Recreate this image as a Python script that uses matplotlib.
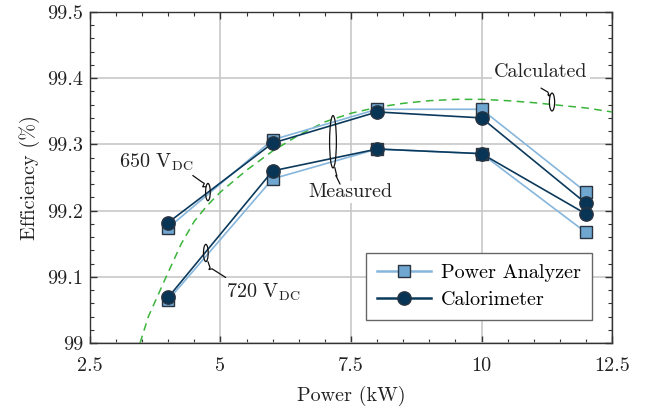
import matplotlib
matplotlib.use("Agg")
import matplotlib.pyplot as plt
from matplotlib.patches import Ellipse
from matplotlib.ticker import MultipleLocator, FuncFormatter

plt.rcParams['font.family'] = ['cmr10', 'DejaVu Serif']
plt.rcParams['mathtext.fontset'] = 'cm'
plt.rcParams['axes.formatter.use_mathtext'] = True

power = [4, 6, 8, 10, 12]
pa_650 = [99.174, 99.307, 99.353, 99.353, 99.228]
cal_650 = [99.182, 99.302, 99.349, 99.340, 99.211]
pa_720 = [99.065, 99.248, 99.293, 99.286, 99.167]
cal_720 = [99.069, 99.260, 99.293, 99.286, 99.195]

calc_power = [3.46, 3.62, 4.0, 4.25, 4.5, 4.75, 5.0, 5.5, 6.0, 6.5, 7.0, 7.5, 8.0, 8.5, 9.0, 9.5, 10.0, 10.5, 11.0, 11.5, 12.0, 12.5]
calc_eff = [99.0, 99.040, 99.107, 99.150, 99.184, 99.208, 99.228, 99.261, 99.290, 99.314, 99.334, 99.347, 99.356, 99.362, 99.366, 99.368, 99.368, 99.366, 99.363, 99.359, 99.355, 99.349]

xticks = [2.5, 5, 7.5, 10, 12.5]
yticks = [99.0, 99.1, 99.2, 99.3, 99.4, 99.5]

light = '#86b6dc'
sq_fill = '#6fa7d1'
dark = '#0c3a5c'
c_fill = '#083456'
edge = '#2a3440'
green = '#3ab53a'
FS = 14.5

fig = plt.figure(figsize=(6.47, 4.13), dpi=100)
ax = fig.add_axes([0.139, 0.1695, 0.807, 0.8015])

ax.plot(calc_power, calc_eff, color=green, lw=1.1, dashes=(5, 3.5), zorder=3)

for pa in (pa_650, pa_720):
    ax.plot(power, pa, color=light, lw=1.2, marker='s', ms=8.2, mfc=sq_fill,
            mec=edge, mew=1.0, zorder=4)
for cal in (cal_650, cal_720):
    ax.plot(power, cal, color=dark, lw=1.2, marker='o', ms=9.6, mfc=c_fill,
            mec=edge, mew=1.0, zorder=5)

# legend proxies
h1, = ax.plot([], [], color=light, lw=1.8, marker='s', ms=8.2, mfc=sq_fill, mec=edge, mew=1.0)
h2, = ax.plot([], [], color=dark, lw=1.8, marker='o', ms=9.6, mfc=c_fill, mec=edge, mew=1.0)
leg = ax.legend([h1, h2], ['Power Analyzer', 'Calorimeter'], loc='lower right',
                bbox_to_anchor=(0.962, 0.0695), borderaxespad=0, fontsize=FS,
                fancybox=False, framealpha=1, edgecolor='#666666',
                handlelength=2.7, handletextpad=0.5, borderpad=0.55, labelspacing=0.45)
leg.get_frame().set_linewidth(1.0)
leg.set_zorder(10)

ax.set_xlim(2.5, 12.5)
ax.set_ylim(99.0, 99.5)
ax.set_xticks(xticks)
ax.set_yticks(yticks)
ax.xaxis.set_minor_locator(MultipleLocator(0.5))
ax.yaxis.set_minor_locator(MultipleLocator(0.02))
ax.xaxis.set_major_formatter(FuncFormatter(lambda v, p: ('%g' % v)))
ax.yaxis.set_major_formatter(FuncFormatter(lambda v, p: ('%g' % round(v, 2))))
ax.tick_params(which='both', direction='in', top=True, right=True, colors='#333333',
               labelcolor='#222222', labelsize=FS)
ax.tick_params(which='major', length=5, width=1)
ax.tick_params(which='minor', length=3, width=0.8)
ax.tick_params(axis='x', pad=10)
ax.tick_params(axis='y', pad=5)
ax.grid(True, which='major', color='#c8c8c8', lw=1.2)
ax.set_axisbelow(True)
for s in ax.spines.values():
    s.set_color('#333333')
    s.set_linewidth(1.0)

ax.set_xlabel('Power (kW)', fontsize=FS, color='#222222', labelpad=8)
ax.set_ylabel('Efficiency (%)', fontsize=FS, color='#222222', labelpad=5)

# annotations
bbox = dict(boxstyle='square,pad=0.12', fc='white', ec='none')
ax.text(3.78, 99.273, r'650 V$_{\mathrm{DC}}$', fontsize=FS, ha='center', va='center',
        color='#222222', bbox=bbox, zorder=6)
ax.text(5.11, 99.076, r'720 V$_{\mathrm{DC}}$', fontsize=FS, ha='left', va='center',
        color='#222222', bbox=bbox, zorder=6)
ax.text(7.48, 99.228, 'Measured', fontsize=FS, ha='center', va='center',
        color='#222222', bbox=bbox, zorder=6)
ax.text(11.14, 99.409, 'Calculated', fontsize=FS, ha='center', va='center',
        color='#222222', bbox=bbox, zorder=6)

def ell(cx, cy, w, h):
    ax.add_patch(Ellipse((cx, cy), w, h, fill=False, ec='#111111', lw=0.9, zorder=7))

ell(4.76, 99.228, 0.09, 0.026)
ell(4.72, 99.136, 0.09, 0.026)
ell(7.155, 99.304, 0.13, 0.079)
ell(11.35, 99.364, 0.10, 0.027)

def leader(xs, ys):
    ax.plot(xs, ys, color='#111111', lw=0.9, zorder=7, solid_capstyle='round')

leader([4.47, 4.63, 4.69, 4.66, 4.72], [99.253, 99.244, 99.241, 99.236, 99.236])
leader([4.76, 4.80, 4.78, 4.84, 5.10], [99.123, 99.114, 99.111, 99.112, 99.099])
leader([7.19, 7.23, 7.21, 7.29], [99.265, 99.252, 99.253, 99.240])
leader([11.14, 11.27, 11.30, 11.27], [99.385, 99.379, 99.373, 99.375])

fig.savefig('out.png', dpi=100)
